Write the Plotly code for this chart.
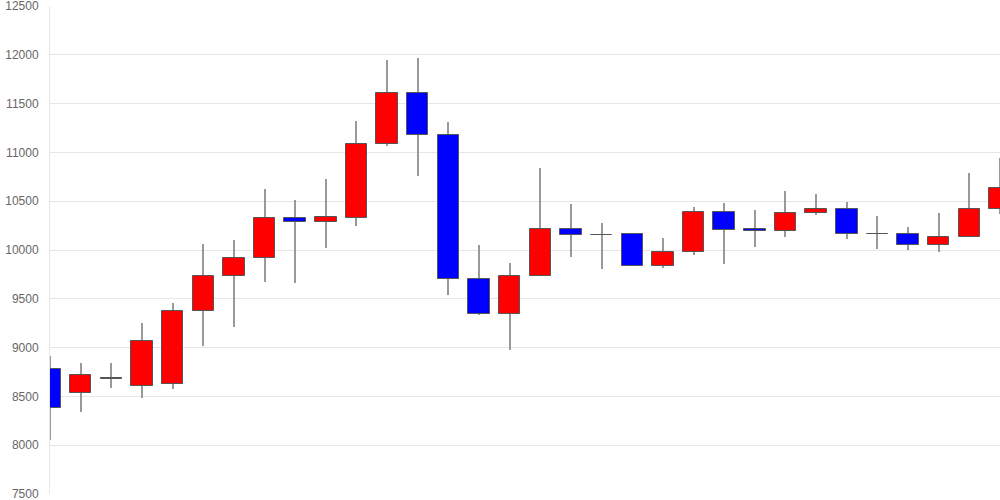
import plotly.graph_objects as go

# Candle data (index order, left to right)
opens  = [8778, 8532, 8680, 8610, 8624, 9372, 9731, 9922, 10326, 10285, 10332, 11084,
          11613, 11176, 9700, 9342, 9731, 10213, 10150, 10161, 9840, 9980, 10394, 10213,
          10192, 10380, 10421, 10168, 10161, 10049, 10131, 10421]
highs  = [8914, 8846, 8846, 9256, 9455, 10062, 10103, 10626, 10514, 10732, 11323, 11945,
          11965, 11310, 10052, 9865, 10838, 10473, 10275, 10161, 10124, 10442, 10483, 10411,
          10603, 10575, 10493, 10353, 10237, 10383, 10790, 10944]
lows   = [8053, 8344, 8590, 8481, 8579, 9020, 9215, 9677, 9660, 10025, 10250, 11070,
          10763, 9543, 9332, 8979, 9731, 9932, 9803, 9840, 9813, 9950, 9857, 10032,
          10130, 10363, 10110, 10014, 10004, 9984, 10131, 10373]
closes = [8381, 8723, 8685, 9065, 9372, 9731, 9922, 10326, 10285, 10336, 11084, 11613,
          11176, 9700, 9342, 9731, 10213, 10152, 10158, 9840, 9984, 10394, 10210, 10192,
          10383, 10424, 10168, 10163, 10049, 10131, 10421, 10633]

y_ticks = [7500, 8000, 8500, 9000, 9500, 10000, 10500, 11000, 11500, 12000, 12500]
y_tick_labels = [str(v) for v in y_ticks]

up_color = "#ff0000"
down_color = "#0000ff"

idx = list(range(len(opens)))

colors = [up_color if c >= o else down_color for o, c in zip(opens, closes)]
bases = [min(o, c) for o, c in zip(opens, closes)]
heights = [max(abs(c - o), 2) for o, c in zip(opens, closes)]
wick_len = [h - l for h, l in zip(highs, lows)]

fig = go.Figure()
# wicks (thin bars drawn first, so bodies cover them)
fig.add_trace(go.Bar(x=idx, y=wick_len, base=lows, width=0.033,
                     marker=dict(color="#999999", line=dict(width=0)),
                     hoverinfo="skip", showlegend=False))
# bodies
fig.add_trace(go.Bar(x=idx, y=heights, base=bases, width=0.7,
                     marker=dict(color=colors, line=dict(color="#555555", width=1)),
                     showlegend=False))

fig.update_layout(
    width=1000, height=500,
    margin=dict(l=50, r=0, t=6, b=6, autoexpand=False),
    paper_bgcolor="white", plot_bgcolor="white",
    font=dict(family="Liberation Sans, Arial, sans-serif", size=12, color="#666666"),
    xaxis=dict(range=[0, 31], showgrid=False, showticklabels=False, zeroline=False,
               showline=False, fixedrange=True, automargin=False),
    yaxis=dict(range=[7500, 12500], tickmode="array", tickvals=y_ticks,
               ticktext=y_tick_labels, showgrid=True,
               gridcolor="#e6e6e6", gridwidth=1, zeroline=False,
               showline=True, linecolor="#e6e6e6", linewidth=1,
               ticks="", ticklabelstandoff=8, ticklabeloverflow="allow",
               fixedrange=True, automargin=False),
    barmode="overlay",
    bargap=0,
)

fig.write_html("out.html", config={"displayModeBar": False},
               post_script="document.body.style.margin='0';document.body.style.overflow='hidden';")
